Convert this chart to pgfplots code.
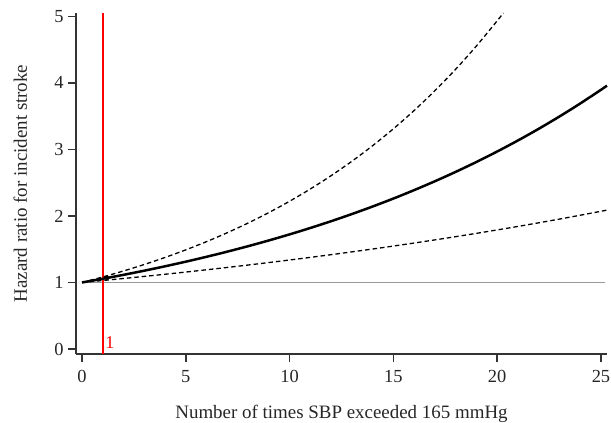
\documentclass[border=0pt]{standalone}
\usepackage{pgfplots}
\pgfplotsset{compat=1.18}
\usepackage{fontspec}
\setmainfont{Liberation Serif}
\begin{document}
\begin{tikzpicture}
\begin{axis}[
  at={(0,0)}, anchor=south west,
  scale only axis, width=531bp, height=341bp,
  xmin=-0.29, xmax=25.29, ymin=-0.075, ymax=5.05,
  axis x line*=bottom, axis y line*=left,
  axis line style={draw=black!80, line width=1.4pt, -},
  xtick={0,5,10,15,20,25}, ytick={0,1,2,3,4,5},
  tick align=outside, major tick length=8bp,
  tick style={black!80, line width=1.4pt},
  ticklabel style={font=\fontsize{18.5}{18.5}\selectfont, text=black!85},
  xticklabel style={yshift=-5bp},
  yticklabel style={xshift=-1bp},
  /pgf/number format/assume math mode=true,
  xlabel={Number of times SBP exceeded 165 mmHg},
  ylabel={Hazard ratio for incident stroke},
  label style={font=\fontsize{19}{19}\selectfont, text=black!85},
  xlabel style={at={(axis description cs:0.5,-0.19)}, anchor=base},
  ylabel style={at={(axis description cs:-0.105,0.5)}, anchor=center},
  clip=false,
]
\addplot[gray!80, line width=0.8pt] coordinates {(0,1) (25.2,1)};
\addplot[red, line width=1.5pt] coordinates {(1,-0.075) (1,5.05)};
\addplot[black, line width=1.3pt, dash pattern=on 4.5bp off 3bp, smooth] coordinates {
(0,1) (1,1.0831) (2,1.1730) (3,1.2705) (4,1.3760) (5,1.4903) (6,1.6141) (7,1.7482)
(8,1.8934) (9,2.0507) (10,2.2210) (11,2.4055) (12,2.6053) (13,2.8217) (14,3.0561)
(15,3.3100) (16,3.5849) (17,3.8827) (18,4.2052) (19,4.5545) (20,4.9328) (20.3,5.05)};
\addplot[black, line width=1.3pt, dash pattern=on 4.5bp off 3bp, smooth] coordinates {
(0,1) (1,1.0295) (2,1.0599) (3,1.0912) (4,1.1234) (5,1.1566) (6,1.1908) (7,1.2259)
(8,1.2621) (9,1.2994) (10,1.3377) (11,1.3772) (12,1.4179) (13,1.4598) (14,1.5029)
(15,1.5472) (16,1.5929) (17,1.6400) (18,1.6884) (19,1.7383) (20,1.7896) (21,1.8424)
(22,1.8968) (23,1.9528) (24,2.0105) (25,2.0699) (25.29,2.088)};
\addplot[black, line width=2.5pt, smooth] coordinates {
(0,1) (1,1.0559) (2,1.1149) (3,1.1773) (4,1.2431) (5,1.3126) (6,1.3860) (7,1.4635)
(8,1.5453) (9,1.6317) (10,1.7229) (11,1.8192) (12,1.9209) (13,2.0283) (14,2.1417)
(15,2.2614) (16,2.3879) (17,2.5214) (18,2.6623) (19,2.8111) (20,2.9683) (21,3.1342)
(22,3.3094) (23,3.4944) (24,3.6898) (25,3.8961) (25.29,3.958)};
\addplot[only marks, mark=*, mark size=2bp, black] coordinates {(1.2,1.07)};
\node[red, anchor=south west, inner sep=0pt, font=\fontsize{18}{18}\selectfont] at (axis cs:1.12,0) {1};
\end{axis}
\pgfresetboundingbox
\path (-76bp,-69bp) rectangle (535bp,354bp);
\end{tikzpicture}
\end{document}
